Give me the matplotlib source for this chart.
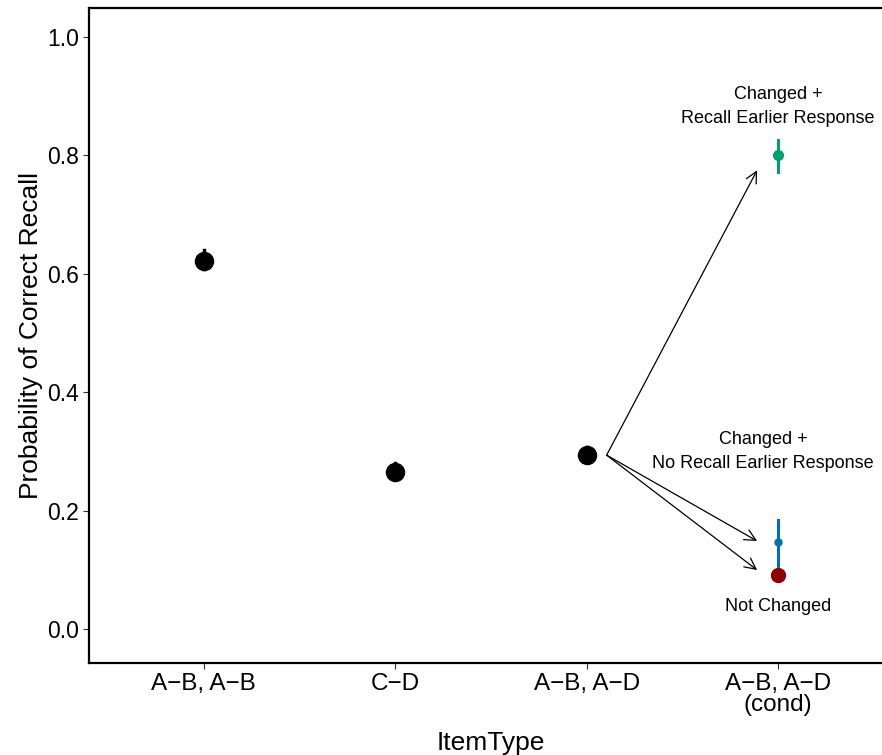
import matplotlib
matplotlib.use("Agg")
import matplotlib.pyplot as plt
import numpy as np

plt.rcParams['font.family'] = ['Liberation Sans', 'DejaVu Sans']

# Data
item_types = ["A\u2212B, A\u2212B", "C\u2212D", "A\u2212B, A\u2212D", "A\u2212B, A\u2212D\n(cond)"]
main_x = [1, 2, 3]
main_p = [0.621, 0.266, 0.294]
main_lo = [0.608, 0.254, 0.282]
main_hi = [0.640, 0.280, 0.308]

cond_labels = ["Changed +\nRecall Earlier Response",
               "Changed +\nNo Recall Earlier Response",
               "Not Changed"]
cond_p = [0.800, 0.147, 0.091]
cond_lo = [0.772, 0.106, 0.085]
cond_hi = [0.826, 0.184, 0.097]
cond_colors = ["#009E73", "#0072B2", "#8B0000"]
cond_sizes = [7, 5, 10]

fig = plt.figure(figsize=(8.82, 7.55), dpi=100)
ax = fig.add_axes([89 / 882, 92 / 755, 804 / 882, 655 / 755])

for x, p, lo, hi in zip(main_x, main_p, main_lo, main_hi):
    ax.plot([x, x], [lo, hi], color='black', lw=2.5, zorder=2)
    ax.plot(x, p, 'o', color='black', ms=13, zorder=3)

for p, lo, hi, c, s in zip(cond_p, cond_lo, cond_hi, cond_colors, cond_sizes):
    ax.plot([4, 4], [lo, hi], color=c, lw=2.2, zorder=2)
    ax.plot(4, p, 'o', color=c, ms=s, zorder=3)

# arrows from A-B, A-D to conditional points
start = (3.104, 0.294)
for end in [(3.89, 0.775), (3.89, 0.149), (3.89, 0.10)]:
    ax.annotate("", xy=end, xytext=start,
                arrowprops=dict(arrowstyle="->", color='black', lw=0.9,
                                mutation_scale=20, shrinkA=0, shrinkB=0))

ax.text(4.0, 0.883, cond_labels[0], ha='center', va='center', fontsize=13, linespacing=1.55)
ax.text(3.92, 0.30, cond_labels[1], ha='center', va='center', fontsize=13, linespacing=1.55)
ax.text(4.0, 0.039, cond_labels[2], ha='center', va='center', fontsize=13)

ax.set_xlim(0.4, 4.6)
ax.set_ylim(-0.057, 1.049)
ax.set_xticks([1, 2, 3, 4])
ax.set_xticklabels(item_types, fontsize=17.5, linespacing=0.95)
ax.set_yticks([0.0, 0.2, 0.4, 0.6, 0.8, 1.0])
ax.set_yticklabels(["0.0", "0.2", "0.4", "0.6", "0.8", "1.0"], fontsize=16.5)
ax.tick_params(length=4, width=0.8, color='#333333', pad=3)
ax.set_xlabel("ItemType", fontsize=19, labelpad=11)
ax.set_ylabel("Probability of Correct Recall", fontsize=19, labelpad=3)
for sp in ax.spines.values():
    sp.set_linewidth(1.6)

fig.savefig("out.png", dpi=100)
